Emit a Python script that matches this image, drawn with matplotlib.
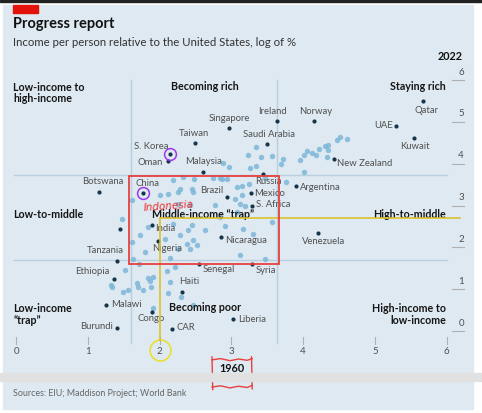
import matplotlib
matplotlib.use("Agg")
import matplotlib.pyplot as plt
import matplotlib.patches as mpatches

plt.rcParams['font.family'] = ['Lato', 'DejaVu Sans']

# ==== Data: log of income per person relative to the US (%) ====
countries = ["Qatar", "UAE", "Kuwait", "Norway", "Ireland", "Singapore", "Taiwan",
             "Saudi Arabia", "S. Korea", "Oman", "Malaysia", "New Zealand", "Russia",
             "Argentina", "Botswana", "China", "Brazil", "Mexico", "S. Africa", "India",
             "Nigeria", "Nicaragua", "Venezuela", "Tanzania", "Ethiopia", "Senegal",
             "Syria", "Haiti", "Malawi", "Congo", "Burundi", "CAR", "Liberia", ""]
x1960 = [5.67, 5.29, 5.54, 4.15, 3.63, 2.96, 2.49,
         3.50, 2.15, 2.12, 2.60, 4.43, 3.44,
         3.90, 1.15, 1.77, 2.94, 3.27, 3.29, 1.90,
         1.98, 2.86, 4.21, 1.40, 1.36, 2.55,
         3.29, 2.31, 1.25, 1.89, 1.40, 2.17, 3.02, 1.45]
y2022 = [5.50, 4.89, 4.62, 5.01, 5.01, 4.85, 4.49,
         4.48, 4.23, 4.07, 3.79, 4.12, 3.76,
         3.47, 3.32, 3.29, 3.21, 3.29, 3.00, 2.54,
         2.16, 2.25, 2.34, 1.68, 1.24, 1.59,
         1.60, 0.94, 0.62, 0.46, 0.06, 0.05, 0.28, 2.44]

# other (unlabelled) countries
other_x = [3.34, 3.23, 3.41, 3.57, 3.26, 3.34, 2.97, 2.88, 3.72, 3.69,
           3.96, 4.01, 4.05, 4.12, 4.18, 4.22, 4.30, 4.35, 4.35, 4.33,
           4.47, 4.51, 4.61, 4.01, 3.76, 2.84, 2.74, 2.33, 2.19, 2.47,
           2.26, 2.01, 3.25, 3.15, 3.47, 2.48, 2.87, 2.94, 3.08, 1.62,
           2.12, 2.28, 2.45, 2.26, 2.42, 2.77, 3.05, 3.15, 3.12, 3.19,
           2.84, 3.08, 3.57, 1.73, 1.84, 1.62, 2.19, 2.45, 2.63, 2.08,
           2.28, 2.47, 2.52, 2.38, 2.26, 1.80, 1.63, 3.12, 3.47, 3.30,
           1.48, 2.40, 2.42, 2.14, 2.21, 1.71, 1.52, 1.32, 1.69, 1.70,
           1.77, 1.84, 1.91, 1.88, 1.49, 1.56, 2.14, 2.12, 2.10, 2.30,
           1.91, 1.87, 1.34, 2.47, 3.16, 2.91]
other_y = [4.40, 4.21, 4.16, 4.19, 3.90, 3.95, 3.92, 4.02, 4.11, 4.00,
           4.09, 4.21, 4.31, 4.26, 4.21, 4.35, 4.43, 4.45, 4.33, 4.16,
           4.57, 4.64, 4.59, 3.80, 3.56, 3.66, 3.66, 3.68, 3.61, 3.33,
           3.33, 3.25, 3.52, 3.47, 3.66, 3.64, 3.64, 3.64, 3.44, 3.13,
           3.28, 3.40, 3.40, 3.04, 3.01, 3.01, 3.16, 3.25, 3.04, 2.99,
           2.73, 2.85, 2.61, 2.30, 2.49, 2.13, 2.56, 2.54, 2.42, 2.20,
           2.30, 2.18, 2.06, 2.08, 1.96, 1.89, 1.72, 1.82, 1.72, 2.32,
           2.68, 2.42, 1.96, 1.75, 1.53, 1.60, 1.46, 1.10, 1.15, 1.05,
           0.98, 1.27, 1.29, 1.05, 0.93, 0.98, 1.17, 0.91, 1.44, 0.81,
           0.55, 1.20, 1.05, 0.62, 2.45, 2.52]

ticks = [0, 1, 2, 3, 4, 5, 6]
threshold_lo = 1.6
threshold_hi = 3.64

# label placement (offset in pixels, alignment)
LABEL_POS = {
    "Qatar": (3, -10, "center"), "UAE": (-3, 1, "right"), "Kuwait": (1, -9, "center"),
    "Norway": (2, 10, "center"), "Ireland": (-4, 10, "center"),
    "Singapore": (1, 10, "center"), "Taiwan": (-1, 10, "center"),
    "Saudi Arabia": (2, 9, "center"), "S. Korea": (-2, 8, "right"),
    "Oman": (-5, -2, "right"), "Malaysia": (1, 11, "center"),
    "New Zealand": (3, -5, "left"), "Russia": (-8, -8, "left"),
    "Argentina": (4, -2, "left"), "Botswana": (4, 11, "center"),
    "China": (4, 10, "center"), "Brazil": (-4, 6, "right"), "Mexico": (3, 0, "left"),
    "S. Africa": (4, 1, "left"), "India": (3, -4, "left"), "Nigeria": (-6, -8, "left"),
    "Nicaragua": (4, -4, "left"), "Venezuela": (5, -8, "center"),
    "Tanzania": (7, 10, "right"), "Ethiopia": (-4, 8, "right"),
    "Senegal": (4, -5, "left"), "Syria": (3, -6, "left"), "Haiti": (-3, 10, "left"),
    "Malawi": (5, 1, "left"), "Congo": (-1, -7, "center"), "Burundi": (-4, 2, "right"),
    "CAR": (5, 1, "left"), "Liberia": (5, 0, "left"),
}

BG = "#dee9f1"
GRID = "#b8cfdf"
DARK = "#17354a"
LIGHT = "#7db6d9"
LABEL = "#505050"
W, H = 482, 413

fig = plt.figure(figsize=(W / 100, H / 100), dpi=100, facecolor="white")


def fx(px):
    return px / W


def fy(py):
    return 1 - py / H


# background panel, top rule, red tag
fig.patches.append(mpatches.Rectangle((fx(3), fy(409)), fx(470), 404 / H,
                                      transform=fig.transFigure, color=BG, zorder=-2))
fig.patches.append(mpatches.Rectangle((0, fy(1.5)), 1, 1.5 / H,
                                      transform=fig.transFigure, color="#222222", zorder=-1))
fig.patches.append(mpatches.Rectangle((fx(13), fy(13)), fx(25), 8 / H,
                                      transform=fig.transFigure, color="#e3120b", zorder=1))

fig.text(fx(13), fy(24), "Progress report", fontsize=10.5, fontweight="bold",
         color="#111111", va="center")
fig.text(fx(13), fy(42.5), "Income per person relative to the United States, log of %",
         fontsize=8.2, color="#333333", va="center")
fig.text(fx(463), fy(57), "2022", fontsize=7.8, fontweight="bold", color="#111111",
         va="center", ha="right")
fig.text(fx(13), fy(394), "Sources: EIU; Maddison Project; World Bank", fontsize=6.4,
         color="#666666", va="center")

ax = fig.add_axes([fx(16), fy(331), fx(430.8), 251 / H])
ax.set_xlim(0, 6)
ax.set_ylim(0, 6)
ax.axis("off")

# quadrant lines
for t in (threshold_lo, threshold_hi):
    ax.plot([-0.03, 6.0], [t + 0.1, t + 0.1], color=GRID, lw=1, clip_on=False, zorder=1)
    ax.plot([t, t], [-0.29, 6.0], color=GRID, lw=1, clip_on=False, zorder=1)

# axis ticks
for t in ticks:
    ax.plot([t, t], [-0.14, -0.30], color="#b0b0b0", lw=0.8, clip_on=False)
    ax.text(t, -0.48, str(t), fontsize=7, color=LABEL, ha="center", va="center")
    ax.plot([6.07, 6.24], [t, t], color="#b0b0b0", lw=0.8, clip_on=False)
    ax.text(6.2, t + 0.19, str(t), fontsize=7, color=LABEL, ha="center", va="center")
ax.text(3, -0.89, "1960", fontsize=7.8, fontweight="bold", color="#111111",
        ha="center", va="center")

# quadrant names
qkw = dict(fontsize=7.7, fontweight="bold", color="#151515", va="center", linespacing=1.1)
ax.text(-0.04, 5.69, "Low-income to\nhigh-income", ha="left", **qkw)
ax.text(2.63, 5.85, "Becoming rich", ha="center", **qkw)
ax.text(5.99, 5.85, "Staying rich", ha="right", **qkw)
ax.text(-0.04, 2.79, "Low-to-middle", ha="left", **qkw)
ax.text(2.60, 2.78, "Middle-income \u201ctrap\u201d", ha="center", **qkw)
ax.text(5.99, 2.78, "High-to-middle", ha="right", **qkw)
ax.text(-0.04, 0.40, "Low-income\n\u201ctrap\u201d", ha="left", **qkw)
ax.text(2.63, 0.57, "Becoming poor", ha="center", **qkw)
ax.text(5.99, 0.40, "High-income to\nlow-income", ha="right", **qkw)

# points
ax.scatter(other_x, other_y, s=15, color=LIGHT, alpha=0.85, lw=0, zorder=2)
ax.scatter(x1960, y2022, s=9, color=DARK, lw=0, zorder=3)
for name, x, y in zip(countries, x1960, y2022):
    if not name:
        continue
    dx, dy, ha = LABEL_POS[name]
    ax.annotate(name, (x, y), xytext=(dx, dy), textcoords="offset pixels",
                fontsize=6.8, color=LABEL, ha=ha, va="center", zorder=4)

# hand-drawn mark-up
ax.add_patch(mpatches.Rectangle((1.57, 1.60), 2.09, 2.11, fill=False,
                                edgecolor="#e8403f", lw=1.3, zorder=5, clip_on=False))
ax.plot([2, 6.18], [2.70, 2.70], color="#dcbf1c", lw=1.1, clip_on=False, zorder=4)
ax.plot([2, 2], [2.70, -0.22], color="#dcbf1c", lw=1.1, clip_on=False, zorder=4)
ax.plot(2, -0.455, marker="o", ms=15, mfc="none", mec="#e8e020", mew=1.1,
        clip_on=False)
for name in ("S. Korea", "China"):
    i = countries.index(name)
    ax.plot(x1960[i], y2022[i], marker="o", ms=8.5, mfc="none", mec="#9b38f0",
            mew=1.1, zorder=5)
ax.text(2.13, 2.99, "Indonesia", fontsize=7.5, color="#ea3030", ha="center",
        va="center", rotation=4, family="DejaVu Sans", fontweight="ultralight",
        fontstyle="italic", zorder=5)

# red bracket around 1960
bx = [2.73, 2.85, 2.98, 3.10, 3.22, 3.29]
ax.plot(bx, [-0.69, -0.66, -0.71, -0.67, -0.70, -0.66], color="#e8403f", lw=1,
        clip_on=False)
ax.plot(bx, [-1.34, -1.31, -1.36, -1.32, -1.35, -1.30], color="#e8403f", lw=1,
        clip_on=False)
ax.plot([2.73, 2.74], [-0.62, -1.40], color="#e8403f", lw=1, clip_on=False)
ax.plot([3.28, 3.29], [-0.62, -1.38], color="#e8403f", lw=1, clip_on=False)

# grey screenshot band
fig.patches.append(mpatches.Rectangle((0, fy(381)), 1, 8 / H, transform=fig.transFigure,
                                      color="#e1e1e1", zorder=10))

fig.savefig("out.png", dpi=100)
